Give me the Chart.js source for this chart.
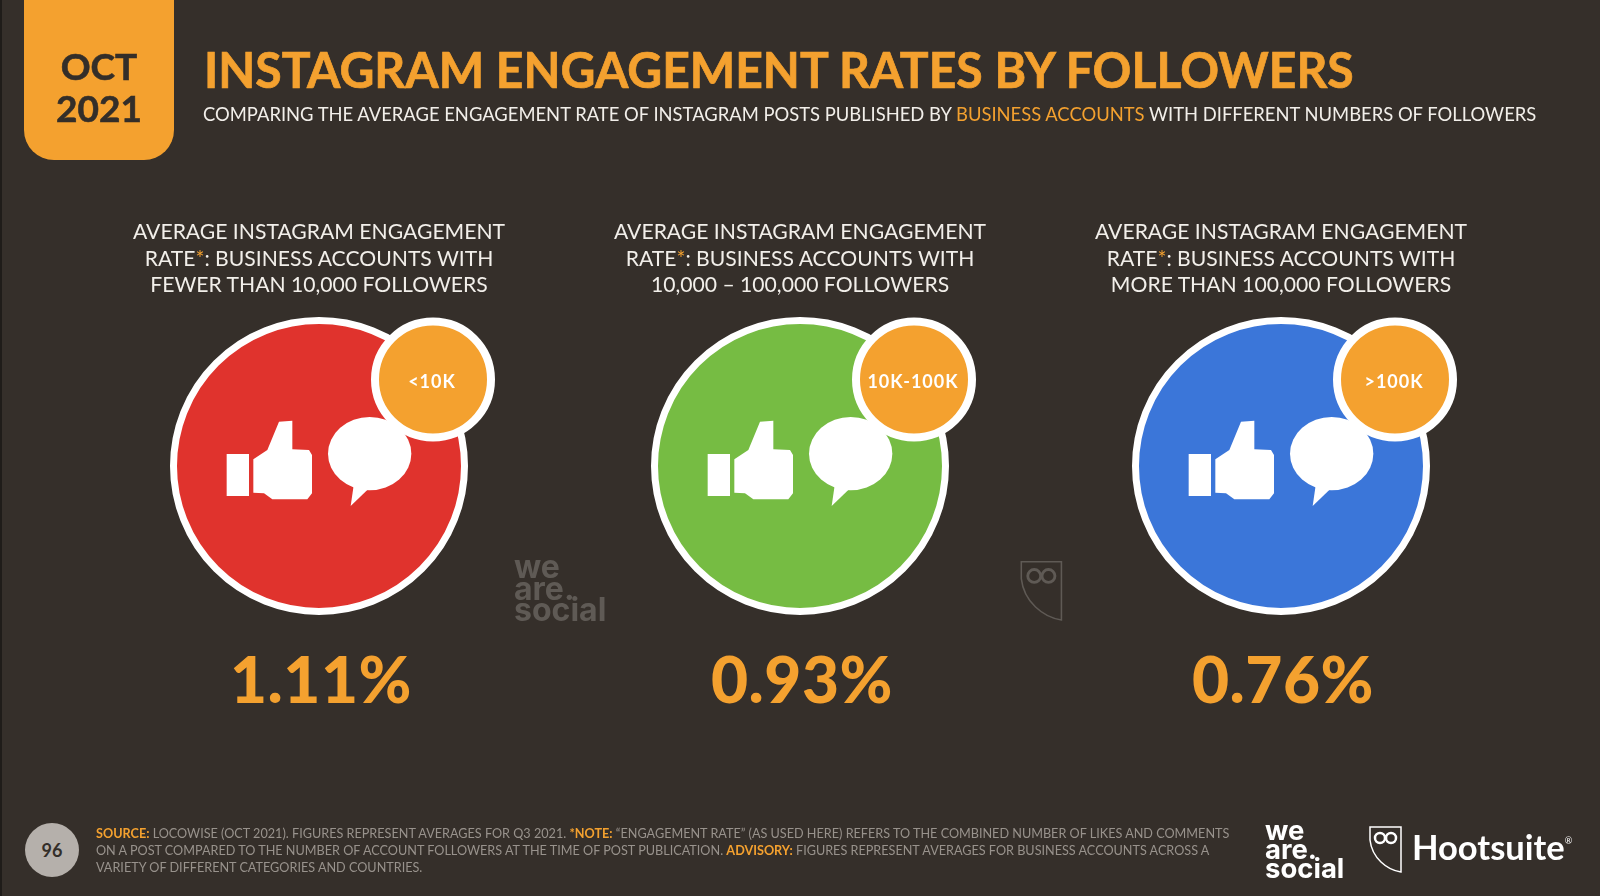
<!DOCTYPE html>
<html>
<head>
<meta charset="utf-8">
<title>Instagram engagement rates by followers</title>
<script src="https://cdn.jsdelivr.net/npm/chart.js@4"></script>
<style>
  html, body { margin: 0; padding: 0; background: #352f2a; }
  #slide { position: relative; width: 1600px; height: 896px; overflow: hidden; font-family: Lato, sans-serif; background: #352f2a; }
  #slide div { position: absolute; white-space: nowrap; }
  #myChart { position: absolute; left: 0; top: 0; }
  #edge { left: 0; top: 0; width: 2px; height: 896px; background: #1f1c19; }
  #tab { left: 24px; top: 0; width: 150px; height: 160px; background: #f4a12f; border-radius: 0 0 30px 30px; }
  .tabtxt { width: 150px; left: 24px; text-align: center; color: #332e29; font-weight: 700; font-size: 37px; line-height: 38px; -webkit-text-stroke: 0.6px #332e29; }
  #heading { left: 204px; top: 45px; font-size: 49px; line-height: 49px; font-weight: 700; color: #f4a12f; transform: scaleX(0.981); transform-origin: left; -webkit-text-stroke: 0.7px #f4a12f; }
  #subheading { left: 203px; top: 105px; font-size: 18.4px; line-height: 19px; color: #f2efea; }
  .orange { color: #f4a12f; }
  .caption { top: 218px; width: 440px; text-align: center; font-size: 21.15px; line-height: 26.5px; color: #f2efea; }
  #pagenum { left: 25px; top: 823px; width: 54px; height: 54px; border-radius: 27px; background: #b5b0ab; color: #332e29; font-weight: 700; font-size: 18px; line-height: 54px; text-align: center; }
  #notes { left: 96px; top: 825px; font-size: 12.65px; line-height: 17px; color: #98928c; }
  #notes b { color: #f4a12f; }
  .wordmark { font-family: Inter, sans-serif; font-weight: 700; white-space: pre !important; }
  #wm1 { left: 1265px; top: 821px; font-size: 27.5px; line-height: 19px; color: #fff; }
  #wm2 { left: 514px; top: 556px; font-size: 32px; line-height: 21.5px; color: #5f5a55; }
  #hoot { left: 1412px; top: 827px; font-size: 34.5px; line-height: 40px; font-weight: 700; color: #fff; }
  #hoot sup { font-size: 9px; font-weight: 400; vertical-align: 16px; line-height: 0; }
  svg { position: absolute; }
</style>
</head>
<body>
<div id="slide">
  <canvas id="myChart" width="1600" height="896"></canvas>
  <div id="edge"></div>
  <div id="tab"></div>
  <div class="tabtxt" style="top:47px">OCT</div>
  <div class="tabtxt" style="top:89px">2021</div>
  <div id="heading">INSTAGRAM ENGAGEMENT RATES BY FOLLOWERS</div>
  <div id="subheading">COMPARING THE AVERAGE ENGAGEMENT RATE OF INSTAGRAM POSTS PUBLISHED BY <span class="orange">BUSINESS ACCOUNTS</span> WITH DIFFERENT NUMBERS OF FOLLOWERS</div>
  <div id="pagenum">96</div>
  <div id="notes"><b>SOURCE:</b> LOCOWISE (OCT 2021). FIGURES REPRESENT AVERAGES FOR Q3 2021. <b>*NOTE:</b> “ENGAGEMENT RATE” (AS USED HERE) REFERS TO THE COMBINED NUMBER OF LIKES AND COMMENTS<br>ON A POST COMPARED TO THE NUMBER OF ACCOUNT FOLLOWERS AT THE TIME OF POST PUBLICATION. <b>ADVISORY:</b> FIGURES REPRESENT AVERAGES FOR BUSINESS ACCOUNTS ACROSS A<br>VARIETY OF DIFFERENT CATEGORIES AND COUNTRIES.</div>
  <div id="wm1" class="wordmark">we
are.
social</div>
  <div id="wm2" class="wordmark">we
are.
social</div>
  <svg style="left:1369px;top:826px" width="34" height="48" viewBox="0 0 34 48" fill="none" stroke="#fff" stroke-width="1.5">
    <path d="M1 1 L32 1 L32 46 C18 44 3 32 1 14 Z"/><circle cx="11" cy="12" r="5" stroke-width="2.5"/><circle cx="22" cy="12" r="5" stroke-width="2.5"/>
  </svg>
  <div id="hoot">Hootsuite<sup>®</sup></div>
  <svg style="left:1020px;top:560px" width="44" height="63" viewBox="0 0 34 48" fill="none" stroke="#5f5a55" stroke-width="1.2">
    <path d="M1 1 L32 1 L32 46 C18 44 3 32 1 14 Z"/><circle cx="11" cy="12" r="5" stroke-width="2.2"/><circle cx="22" cy="12" r="5" stroke-width="2.2"/>
  </svg>
</div>
<script>
const categories = ["<10K", "10K-100K", ">100K"];
const rates = [1.11, 0.93, 0.76];
const markerRow = [1, 1, 1];
const circleColors = ["#e0332d", "#76bc43", "#3b76d9"];
const captionLines = [
  ["AVERAGE INSTAGRAM ENGAGEMENT", "RATE<span class='orange'>*</span>: BUSINESS ACCOUNTS WITH", "FEWER THAN 10,000 FOLLOWERS"],
  ["AVERAGE INSTAGRAM ENGAGEMENT", "RATE<span class='orange'>*</span>: BUSINESS ACCOUNTS WITH", "10,000 – 100,000 FOLLOWERS"],
  ["AVERAGE INSTAGRAM ENGAGEMENT", "RATE<span class='orange'>*</span>: BUSINESS ACCOUNTS WITH", "MORE THAN 100,000 FOLLOWERS"]
];

const thumbBar = new Path2D("M228 462 H295 V588 H228 Z");
const thumbHand = new Path2D("M308 478 L350 450 L385 365 L425 362 L425 448 L475 450 L484 465 L484 580 L470 598 L365 598 L340 580 L308 578 Z");

// badge, icons and the big value sit on top of each circle
const circleExtras = {
  id: "circleExtras",
  afterDatasetsDraw(chart) {
    const ctx = chart.ctx;
    chart.getDatasetMeta(0).data.forEach((pt, i) => {
      ctx.save();
      ctx.translate(pt.x, pt.y);

      // icons, traced in 3x units around the circle centre
      ctx.save();
      ctx.scale(1 / 3, 1 / 3);
      ctx.translate(-505, -498);
      ctx.fillStyle = "#fff";
      ctx.fill(thumbBar);
      ctx.fill(thumbHand);
      ctx.beginPath();
      ctx.ellipse(657, 461, 125, 110, 0, 0, Math.PI * 2);
      ctx.fill();
      ctx.beginPath();
      ctx.moveTo(610, 550);
      ctx.lineTo(600, 618);
      ctx.lineTo(660, 560);
      ctx.fill();
      ctx.restore();

      // badge
      ctx.beginPath();
      ctx.arc(114, -86.5, 58, 0, Math.PI * 2);
      ctx.fillStyle = "#f4a12f";
      ctx.fill();
      ctx.lineWidth = 8;
      ctx.strokeStyle = "#fff";
      ctx.stroke();
      ctx.fillStyle = "#fff";
      ctx.font = "700 18px Lato";
      ctx.letterSpacing = "1px";
      ctx.textAlign = "center";
      ctx.textBaseline = "middle";
      ctx.fillText(categories[i], 113, -84);

      // value
      ctx.fillStyle = "#f4a12f";
      ctx.font = "900 64px Lato";
      ctx.letterSpacing = "0.5px";
      ctx.fillText(pt.$context.raw.rate.toFixed(2) + "%", 2, 216);
      ctx.restore();
    });
  }
};

const myChart = new Chart("myChart", {
  type: "line",
  data: {
    labels: categories,
    datasets: [{
      data: categories.map((c, i) => ({ x: c, y: markerRow[i], rate: rates[i] })),
      showLine: false,
      pointRadius: 145.5,
      pointHoverRadius: 145.5,
      pointBorderWidth: 7,
      pointBorderColor: "#fff",
      pointBackgroundColor: circleColors,
      clip: false
    }]
  },
  options: {
    responsive: false,
    animation: false,
    devicePixelRatio: 1,
    layout: { autoPadding: false, padding: { left: 78.5, right: 78.5, top: 36, bottom: 0 } },
    plugins: { legend: { display: false }, tooltip: { enabled: false } },
    scales: {
      x: { type: "category", offset: true, display: false },
      y: { min: 0, max: 2, display: false }
    }
  },
  plugins: [circleExtras]
});

captionLines.forEach((lines, i) => {
  const el = document.createElement("div");
  el.className = "caption";
  el.style.left = (myChart.scales.x.getPixelForTick(i) - 220) + "px";
  el.innerHTML = lines.join("<br>");
  document.getElementById("slide").appendChild(el);
});
</script>
</body>
</html>
